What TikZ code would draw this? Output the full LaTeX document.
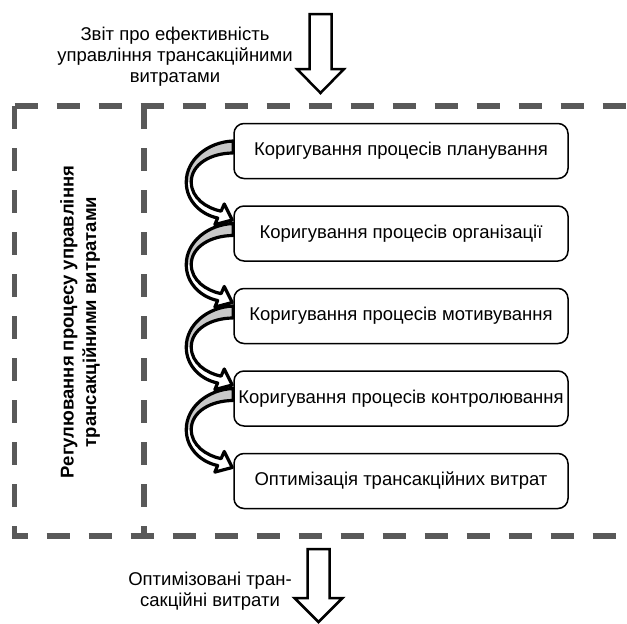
\documentclass[tikz,border=0pt]{standalone}
\usepackage{fontspec}
\setmainfont{Liberation Sans}
\usetikzlibrary{positioning}

\definecolor{framegray}{HTML}{595959}
\definecolor{bandgray}{HTML}{C8C8C8}

\tikzset{
  procbox/.style={draw, line width=1.5pt, rounded corners=10pt,
    minimum width=334pt, minimum height=55pt, inner xsep=1pt,
    font=\fontsize{18.5}{21}\selectfont},
  frameline/.style={draw=framegray, line width=5.5pt, dash pattern=on 23pt off 19pt},
  blockarrow/.style={draw, fill=white, line width=2.5pt, line join=miter},
  bandarrow/.style={draw, line width=3.2pt, line join=round},
  caption/.style={align=center, inner sep=0pt, font=\fontsize{18.5}{21}\selectfont}
}

\begin{document}
\begin{tikzpicture}[x=1pt, y=-1pt]
  \useasboundingbox (0,0) rectangle (627,624);

  % Dashed frames (open to the right)
  \draw[frameline] (14.5,106) -- (627,106);
  \draw[frameline] (14.5,106) -- (14.5,536) -- (627,536);
  \draw[frameline] (144,106) -- (144,536);

  % Input and output texts
  \node[caption] (report) at (175,57) {Звіт про ефективність\\управління трансакційними\\витратами};
  \node[caption] (result) at (210,591) {Оптимізовані тран-\\сакційні витрати};

  % Big hollow arrows
  \draw[blockarrow] (309.5,14) -- (331.5,14) -- (331.5,69) -- (344,69)
    -- (320.5,93) -- (297,69) -- (309.5,69) -- cycle;
  \draw[blockarrow] (307.5,549) -- (329.5,549) -- (329.5,598) -- (342.5,598)
    -- (318.5,622) -- (294.5,598) -- (307.5,598) -- cycle;

  % Side title
  \node[caption, rotate=90, font=\fontsize{18.5}{22.5}\selectfont\bfseries] (side) at (80,322)
    {Регулювання процесу управління\\трансакційними витратами};

  % Steps
  \node[procbox] (b1) at (401,151) {Коригування процесів планування};
  \node[procbox, below=26pt of b1] (b2) {Коригування процесів організації};
  \node[procbox, below=26pt of b2] (b3) {Коригування процесів мотивування};
  \node[procbox, below=26pt of b3] (b4) {Коригування процесів контролювання};
  \node[procbox, below=26pt of b4] (b5) {Оптимізація трансакційних витрат};

  % Curved arrows between steps
  \foreach \a in {b1,b2,b3,b4}{
    \begin{scope}[shift={(\a.west)}]
      \fill[white] (0,-10) .. controls (-26,-9) and (-47,9) .. (-47,31)
        .. controls (-47,51) and (-31,64) .. (-15.6,67)
        -- (-18.4,73.6) -- (-1,69) -- (-9,53) -- (-12.2,60.2)
        .. controls (-27,57) and (-42,47) .. (-42,31)
        .. controls (-42,13) and (-22,2) .. (0,2) -- cycle;
      \fill[bandgray] (0,-10) .. controls (-26,-9) and (-47,9) .. (-47,31)
        -- (-42,31) .. controls (-42,13) and (-22,2) .. (0,2) -- cycle;
      \draw[bandarrow] (0,-10) .. controls (-26,-9) and (-47,9) .. (-47,31)
        .. controls (-47,51) and (-31,64) .. (-15.6,67)
        -- (-18.4,73.6) -- (-1,69) -- (-9,53) -- (-12.2,60.2)
        .. controls (-27,57) and (-42,47) .. (-42,31)
        .. controls (-42,13) and (-22,2) .. (0,2) -- cycle;
    \end{scope}
  }

\end{tikzpicture}
\end{document}
